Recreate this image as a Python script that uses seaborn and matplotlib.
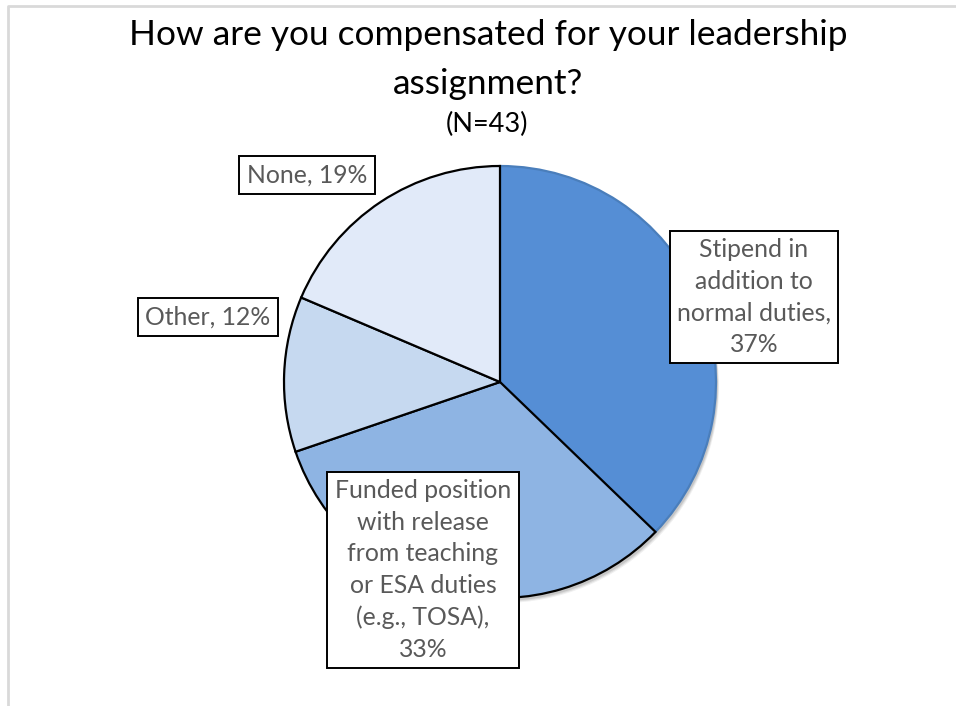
import matplotlib
matplotlib.use("Agg")
import matplotlib.pyplot as plt
from matplotlib.patches import Circle
import seaborn as sns

# ── Data ──────────────────────────────────────────────────────────────────────
categories = [
    "Stipend in\naddition to\nnormal duties",
    "Funded position\nwith release\nfrom teaching\nor ESA duties\n(e.g., TOSA)",
    "Other",
    "None",
]
counts = [16, 14, 5, 8]          # N = 43
percents = [37, 33, 12, 19]
slice_colors = ["#558ED5", "#8EB4E3", "#C6D9F0", "#E1EAF9"]
edge_colors = ["#4A7EBB", "black", "black", "black"]
label_joiner = [",\n", ",\n", ", ", ", "]
# label box centres, figure pixels (x, y from top)
label_pos = [(754, 297), (423, 570), (208, 317), (307, 175)]

title_lines = ["How are you compensated for your leadership", "assignment?"]
subtitle = "(N=43)"

W, H = 956, 706

sns.set_theme(style="white")
plt.rcParams["font.family"] = ["Lato", "DejaVu Sans"]

fig = plt.figure(figsize=(W / 100, H / 100), dpi=100)
ax = fig.add_axes([0, 0, 1, 1])

cx, cy, r = 500, H - 382, 216

# soft grey drop shadow
for off, a in [(5, 0.06), (4, 0.08), (3, 0.10)]:
    ax.add_patch(Circle((cx + off * 0.6, cy - off), r, color="black",
                        alpha=a, lw=0, zorder=0.5))

wedges, _ = ax.pie(
    counts,
    colors=sns.color_palette(slice_colors),
    startangle=90,
    counterclock=False,
    center=(cx, cy),
    radius=r,
    wedgeprops=dict(linewidth=1.6, edgecolor="black", zorder=1),
)
for w, ec in zip(wedges, edge_colors):
    w.set_edgecolor(ec)

ax.set_xlim(0, W)
ax.set_ylim(0, H)
ax.set_aspect("equal")
ax.axis("off")

for cat, pct, sep, (px, py) in zip(categories, percents, label_joiner, label_pos):
    ax.text(px, H - py, f"{cat}{sep}{pct}%", ha="center", va="center",
            fontsize=17.8, color="#595959", linespacing=1.45, zorder=3,
            bbox=dict(boxstyle="square,pad=0.3", fc="white", ec="black", lw=1.4))

for line, base in zip(title_lines, [45, 94]):
    ax.text(W / 2 + 10, H - base, line, ha="center", va="baseline",
            fontsize=25.4, color="black")
ax.text(487, H - 132, subtitle, ha="center", va="baseline",
        fontsize=19.5, color="black")

# partial chart frame (left and top edges)
ax.plot([8, 8, W], [0, H - 6, H - 6], color="#D9D9D9", lw=2, clip_on=False)

fig.savefig("out.png", dpi=100)
